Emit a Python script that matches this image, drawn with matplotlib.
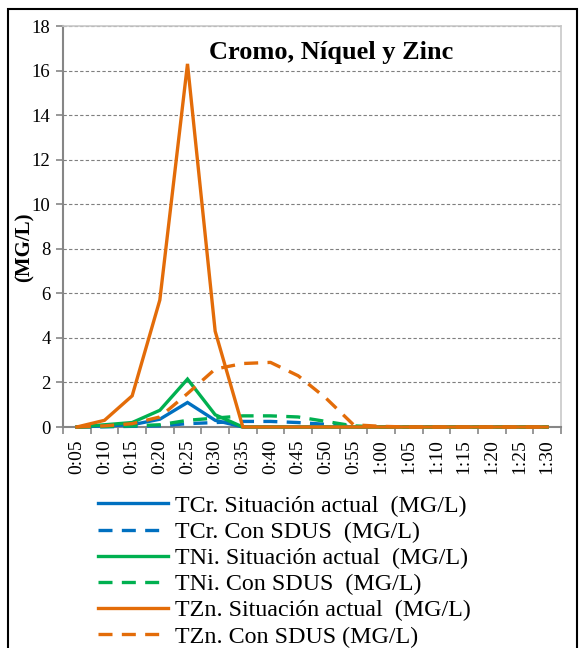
import matplotlib
matplotlib.use("Agg")
import matplotlib.pyplot as plt
from matplotlib.patches import Rectangle
import numpy as np

plt.rcParams['font.family'] = ['Liberation Serif', 'DejaVu Serif']

# Datos
horas = ['0:05', '0:10', '0:15', '0:20', '0:25', '0:30', '0:35', '0:40', '0:45',
         '0:50', '0:55', '1:00', '1:05', '1:10', '1:15', '1:20', '1:25', '1:30']
cr_actual = [0, 0.05, 0.1, 0.35, 1.1, 0.3, 0, 0, 0, 0, 0, 0, 0, 0, 0, 0, 0, 0]
cr_sdus = [0, 0.01, 0.03, 0.05, 0.15, 0.2, 0.25, 0.25, 0.2, 0.12, 0.02, 0, 0, 0, 0, 0, 0, 0]
ni_actual = [0, 0.1, 0.2, 0.75, 2.15, 0.55, 0, 0, 0, 0, 0, 0, 0, 0, 0, 0, 0, 0]
ni_sdus = [0, 0.02, 0.05, 0.1, 0.3, 0.4, 0.5, 0.5, 0.45, 0.25, 0.05, 0, 0, 0, 0, 0, 0, 0]
zn_actual = [0, 0.3, 1.4, 5.7, 16.3, 4.3, 0, 0, 0, 0, 0, 0, 0, 0, 0, 0, 0, 0]
zn_sdus = [0, 0.05, 0.15, 0.45, 1.5, 2.6, 2.85, 2.9, 2.3, 1.3, 0.1, 0.03, 0, 0, 0, 0, 0, 0]

series = [
    (cr_actual, '#0070C0', '-', 'TCr. Situación actual  (MG/L)'),
    (cr_sdus, '#0070C0', '--', 'TCr. Con SDUS  (MG/L)'),
    (ni_actual, '#00B050', '-', 'TNi. Situación actual  (MG/L)'),
    (ni_sdus, '#00B050', '--', 'TNi. Con SDUS  (MG/L)'),
    (zn_actual, '#E36C09', '-', 'TZn. Situación actual  (MG/L)'),
    (zn_sdus, '#E36C09', '--', 'TZn. Con SDUS (MG/L)'),
]

fig = plt.figure(figsize=(5.82, 6.48), dpi=100)
ax = fig.add_axes([63/582, 1 - 427/648, (561 - 63)/582, (427 - 26)/648])

x = np.arange(len(horas))
for vals, col, ls, lab in series:
    ln, = ax.plot(x, vals, color=col, lw=2.4, label=lab, clip_on=False, zorder=3,
                  solid_joinstyle='miter')
    if ls == '--':
        ln.set_dashes((4.2, 2.8))

ax.set_xlim(-0.5, len(horas) - 0.5)
ax.set_ylim(0, 18)
ax.set_yticks(np.arange(0, 19, 2))
ax.set_xticks(x)
ax.set_xticklabels(horas, rotation=90, fontsize=14)
ax.set_xticks(np.arange(-0.5, len(horas), 1), minor=True)
ax.tick_params(axis='x', which='major', length=0, pad=9)
ax.tick_params(axis='x', which='minor', length=5, color='#868686', width=1.2)
ax.tick_params(axis='y', length=5, color='#868686', width=1.2, labelsize=13.5, pad=4)

ax.grid(axis='y', linestyle=(0, (3, 2)), color='#7f7f7f', lw=0.8)
ax.set_axisbelow(True)
for s in ['left', 'bottom']:
    ax.spines[s].set_color('#868686')
    ax.spines[s].set_linewidth(1.5)
for s in ['top', 'right']:
    ax.spines[s].set_color('#c8c8c8')
    ax.spines[s].set_linewidth(1.2)

fig.text(25/582, 1 - 247/648, '(MG/L)', rotation=90, fontsize=15, fontweight='bold',
         ha='center', va='center')
ax.text(0.538, 0.935, 'Cromo, Níquel y Zinc', transform=ax.transAxes,
        fontsize=19, fontweight='bold', ha='center', va='center')

fig.legend(loc='upper left', bbox_to_anchor=(98/582, 1 - 495/648), frameon=False,
           fontsize=17.3, handlelength=2.9, handletextpad=0.3, labelspacing=0.18,
           borderpad=0, borderaxespad=0)

# marco exterior
fig.patches.append(Rectangle((8/582, -0.05), (577 - 8)/582, 1.05 - 9/648,
                             transform=fig.transFigure, fill=False, ec='black', lw=1.5))

plt.savefig('out.png', dpi=100)
